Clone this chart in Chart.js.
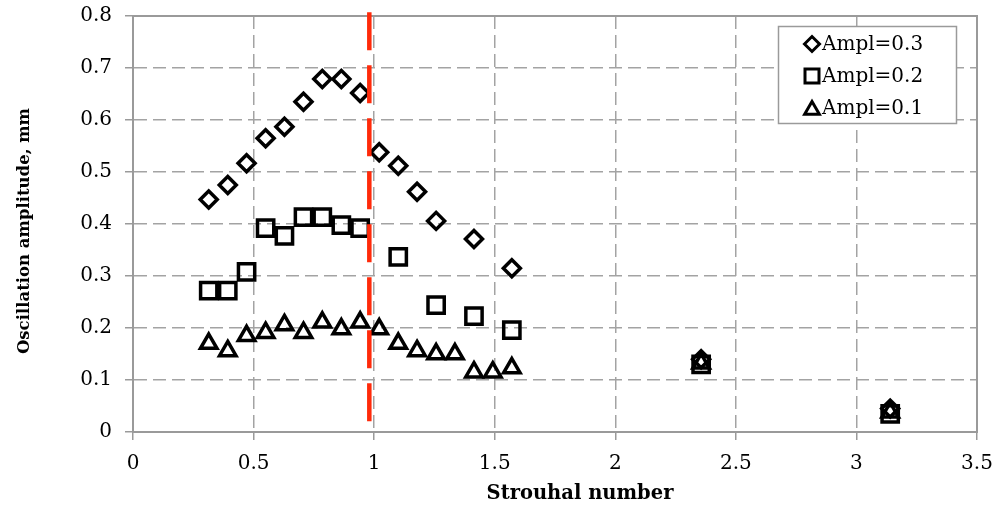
<!DOCTYPE html>
<html>
<head>
<meta charset="utf-8">
<script src="https://cdn.jsdelivr.net/npm/chart.js@4/dist/chart.umd.min.js"></script>
<style>
  html, body { margin: 0; padding: 0; background: #fff; }
  #wrap { width: 997px; height: 511px; position: relative; }
</style>
</head>
<body>
<div id="wrap"><canvas id="c" width="997" height="511"></canvas></div>
<script>
// ---- data ----
const strouhalA3 = [0.314, 0.393, 0.471, 0.550, 0.628, 0.707, 0.785, 0.864, 0.942, 1.021, 1.100, 1.178, 1.257, 1.414, 1.571, 2.356, 3.140];
const ampl03 = [0.447, 0.475, 0.517, 0.565, 0.587, 0.635, 0.679, 0.679, 0.652, 0.538, 0.512, 0.462, 0.406, 0.371, 0.315, 0.140, 0.045];

const strouhalA2 = [0.314, 0.393, 0.471, 0.550, 0.628, 0.707, 0.785, 0.864, 0.942, 1.100, 1.257, 1.414, 1.571, 2.356, 3.140];
const ampl02 = [0.272, 0.272, 0.308, 0.392, 0.377, 0.413, 0.413, 0.398, 0.392, 0.337, 0.244, 0.223, 0.196, 0.130, 0.035];

const strouhalA1 = [0.314, 0.393, 0.471, 0.550, 0.628, 0.707, 0.785, 0.864, 0.942, 1.021, 1.100, 1.178, 1.257, 1.335, 1.414, 1.492, 1.571, 2.356, 3.140];
const ampl01 = [0.170, 0.156, 0.185, 0.191, 0.206, 0.191, 0.211, 0.198, 0.211, 0.198, 0.170, 0.156, 0.150, 0.150, 0.115, 0.115, 0.123, 0.132, 0.038];

const seriesNames = ['Ampl=0.3', 'Ampl=0.2', 'Ampl=0.1'];
const redLineX = [0.98, 0.98];
const redLineY = [0.807, 0.02];

const xTickLabels = ['0', '0.5', '1', '1.5', '2', '2.5', '3', '3.5'];
const yTickLabels = ['0', '0.1', '0.2', '0.3', '0.4', '0.5', '0.6', '0.7', '0.8'];
const xTitle = 'Strouhal number';
const yTitle = 'Oscillation amplitude, mm';

// ---- build ----
const toPts = (xs, ys) => xs.map((x, i) => ({x: x, y: ys[i]}));
const FONT = '"DejaVu Serif", "Liberation Serif", serif';
const GRID = '#a3a3a3';

const frame = {
  id: 'frame',
  beforeDatasetsDraw(chart) {
    const a = chart.chartArea, ctx = chart.ctx;
    ctx.save();
    ctx.strokeStyle = '#9a9a9a';
    ctx.lineWidth = 2;
    ctx.strokeRect(a.left, a.top, a.right - a.left, a.bottom - a.top);
    ctx.restore();
  }
};

const axisTitles = {
  id: 'axisTitles',
  afterDraw(chart) {
    const ctx = chart.ctx;
    ctx.save();
    ctx.fillStyle = '#000';
    ctx.textAlign = 'center';
    ctx.textBaseline = 'middle';
    ctx.font = 'bold 19.5px ' + FONT;
    ctx.fillText(xTitle, 580, 494);
    ctx.translate(25, 231);
    ctx.rotate(-Math.PI / 2);
    ctx.font = 'bold 16.5px ' + FONT;
    ctx.fillText(yTitle, 0, 0);
    ctx.restore();
  }
};

function drawMarker(ctx, style, x, y) {
  ctx.beginPath();
  if (style === 'diamond') {
    const r = 7.5;
    ctx.moveTo(x - r, y); ctx.lineTo(x, y - r); ctx.lineTo(x + r, y); ctx.lineTo(x, y + r); ctx.closePath();
  } else if (style === 'square') {
    const h = 7;
    ctx.rect(x - h, y - h, 2 * h, 2 * h);
  } else {
    const r = 8.5;
    ctx.moveTo(x, y - r);
    ctx.lineTo(x + 0.866 * r, y + 0.5 * r);
    ctx.lineTo(x - 0.866 * r, y + 0.5 * r);
    ctx.closePath();
  }
  ctx.stroke();
}

const legendBox = {
  id: 'legendBox',
  afterDraw(chart) {
    const ctx = chart.ctx;
    const L = 778, T = 26, R = 956, B = 123;
    ctx.save();
    ctx.fillStyle = '#fff';
    ctx.fillRect(L, T, R - L, B - T);
    ctx.strokeStyle = '#9a9a9a';
    ctx.lineWidth = 1.5;
    ctx.strokeRect(L + 0.5, T + 0.5, R - L, B - T);
    const styles = ['diamond', 'square', 'triangle'];
    ctx.font = '20px ' + FONT;
    ctx.textBaseline = 'middle';
    ctx.textAlign = 'left';
    for (let i = 0; i < 3; i++) {
      const y = 44 + i * 32;
      ctx.strokeStyle = '#000';
      ctx.lineWidth = 3;
      ctx.lineJoin = 'miter';
      drawMarker(ctx, styles[i], 812, y + (i === 2 ? 2 : 0));
      ctx.fillStyle = '#000';
      ctx.fillText(seriesNames[i], 822, y + 1);
    }
    ctx.restore();
  }
};

const markerBase = {
  type: 'scatter',
  showLine: false,
  borderColor: '#000',
  backgroundColor: 'rgba(255,255,255,0)',
  pointBorderColor: '#000',
  pointBackgroundColor: 'rgba(255,255,255,0)',
  pointBorderWidth: 3.5
};

function zeroPad(s) { s.paddingTop = 0; s.paddingBottom = 0; s.paddingLeft = 0; s.paddingRight = 0; }

new Chart(document.getElementById('c'), {
  type: 'scatter',
  data: {
    datasets: [
      Object.assign({}, markerBase, { label: seriesNames[0], data: toPts(strouhalA3, ampl03), pointStyle: 'rectRot', pointRadius: 8.5 }),
      Object.assign({}, markerBase, { label: seriesNames[1], data: toPts(strouhalA2, ampl02), pointStyle: 'rect', pointRadius: 11.5 }),
      Object.assign({}, markerBase, { label: seriesNames[2], data: toPts(strouhalA1, ampl01), pointStyle: 'triangle', pointRadius: 9.5 }),
      {
        type: 'line',
        label: 'limit',
        data: toPts(redLineX, redLineY),
        borderColor: '#ff2a0a',
        borderWidth: 4.5,
        borderDash: [38, 15],
        pointRadius: 0,
        showLine: true,
        fill: false,
        clip: false,
        order: -1
      }
    ]
  },
  options: {
    responsive: false,
    animation: false,
    devicePixelRatio: 1,
    layout: { padding: { top: 16, right: 20, left: 0, bottom: 0 }, autoPadding: false },
    plugins: { legend: { display: false }, tooltip: { enabled: false } },
    scales: {
      x: {
        type: 'linear',
        min: 0, max: 3.5,
        afterFit(s) { s.height = 79; zeroPad(s); },
        afterBuildTicks(s) { s.ticks = xTickLabels.map((t, i) => ({ value: i * 0.5 })); },
        ticks: {
          autoSkip: false, maxRotation: 0,
          color: '#000', padding: 12,
          font: { family: FONT, size: 20 },
          callback: (v, i) => xTickLabels[i]
        },
        grid: { color: GRID, lineWidth: 1.5, tickLength: 8, tickColor: '#9a9a9a', tickWidth: 1.5 },
        border: { display: true, color: '#9a9a9a', width: 2, dash: [13, 6] },
        title: { display: false }
      },
      y: {
        type: 'linear',
        min: 0, max: 0.8,
        afterFit(s) { s.width = 133; zeroPad(s); },
        afterBuildTicks(s) { s.ticks = yTickLabels.map((t, i) => ({ value: i * 0.1 })); },
        ticks: {
          autoSkip: false,
          color: '#000', padding: 13,
          font: { family: FONT, size: 20 },
          callback: (v, i) => yTickLabels[i]
        },
        grid: { color: GRID, lineWidth: 1.5, tickLength: 8, tickColor: '#9a9a9a', tickWidth: 1.5 },
        border: { display: true, color: '#9a9a9a', width: 2, dash: [13, 6] },
        title: { display: false }
      }
    }
  },
  plugins: [frame, legendBox, axisTitles]
});
</script>
</body>
</html>
